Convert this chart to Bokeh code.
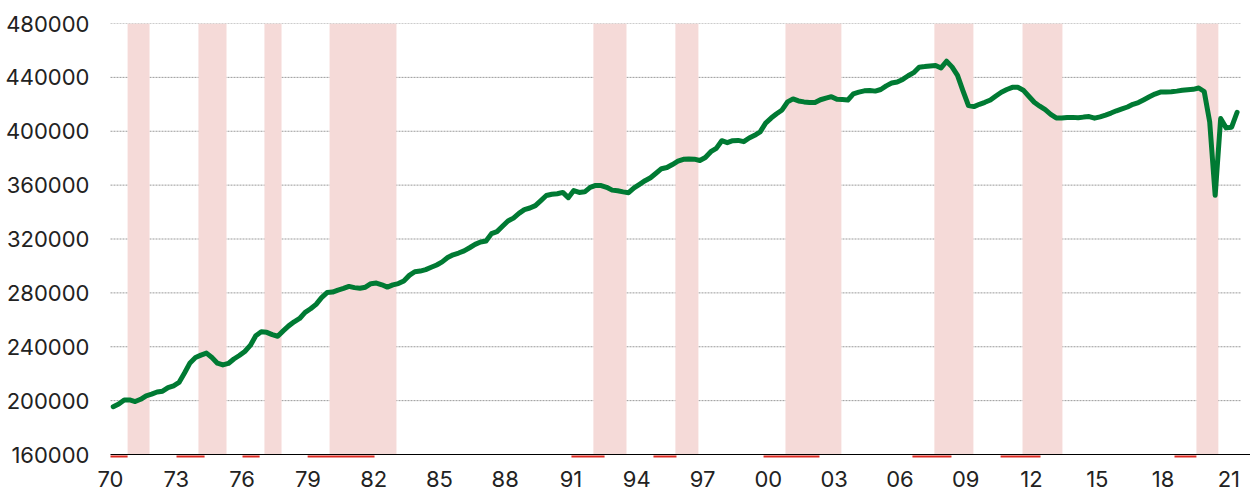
from bokeh.plotting import figure
from bokeh.models import (Range1d, FixedTicker, ColumnDataSource, NumeralTickFormatter,
                          LabelSet)
from bokeh.core.properties import value
from bokeh.embed import file_html
from bokeh.resources import INLINE

# ---------------- data ----------------
first_year = 1970
# quarterly values, 1970Q1 .. 2021Q2
values = [
    195500, 197500, 200500, 200500,   # 1970
    199300, 201000, 203600, 204800,   # 1971
    206400, 207000, 209600, 211000,   # 1972
    213500, 220500, 228000, 232000,   # 1973
    233800, 235300, 232000, 227800,   # 1974
    226500, 227600, 230900, 233500,   # 1975
    236500, 241000, 248200, 251100,   # 1976
    250700, 249000, 247800, 251800,   # 1977
    255500, 258500, 261000, 265500,   # 1978
    268200, 271500, 276500, 280200,   # 1979
    280600, 282100, 283300, 284800,   # 1980
    283900, 283400, 284200, 286800,   # 1981
    287300, 286000, 284300, 285900,   # 1982
    286900, 288900, 293000, 295700,   # 1983
    296200, 297300, 299000, 300700,   # 1984
    303000, 306200, 308300, 309600,   # 1985
    311200, 313500, 316000, 317800,   # 1986
    318500, 324000, 325500, 329500,   # 1987
    333400, 335500, 339000, 341800,   # 1988
    343000, 344800, 348500, 352300,   # 1989
    353200, 353600, 354600, 350700,   # 1990
    356000, 354600, 355000, 358300,   # 1991
    359800, 359700, 358400, 356300,   # 1992
    355800, 355000, 354400, 358000,   # 1993
    360600, 363300, 365500, 368800,   # 1994
    372200, 373100, 375300, 377800,   # 1995
    379200, 379400, 379300, 378300,   # 1996
    380500, 384800, 387300, 393000,   # 1997
    391500, 393000, 393200, 392300,   # 1998
    395000, 397000, 399500, 406000,   # 1999
    409800, 413000, 415800, 421800,   # 2000
    424000, 422500, 421800, 421400,   # 2001
    421300, 423400, 424600, 425700,   # 2002
    423700, 423500, 423200, 427800,   # 2003
    429000, 430000, 430200, 429800,   # 2004
    431000, 433700, 435800, 436600,   # 2005
    438500, 441200, 443500, 447600,   # 2006
    448000, 448500, 448800, 447000,   # 2007
    452000, 447800, 441500, 430000,   # 2008
    419000, 418300, 420000, 421500,   # 2009
    423200, 426200, 429000, 431000,   # 2010
    432600, 432600, 430500, 426000,   # 2011
    421500, 418600, 416000, 412500,   # 2012
    409900, 409900, 410200, 410300,   # 2013
    410000, 410500, 410900, 409700,   # 2014
    410700, 412000, 413500, 415200,   # 2015
    416600, 418000, 420000, 421300,   # 2016
    423400, 425600, 427600, 429100,   # 2017
    429100, 429300, 429800, 430400,   # 2018
    430800, 431100, 432100, 429500,   # 2019
    407000, 352400, 409400, 402500,   # 2020
    403000, 414100,                   # 2021
]

# shaded periods (fractional years)
band_start = [1970.78, 1974.01, 1977.02, 1979.99, 1992.02, 1995.76, 2000.78, 2007.57, 2011.59, 2019.52]
band_end   = [1971.78, 1975.29, 1977.80, 1983.04, 1993.53, 1996.81, 2003.33, 2009.35, 2013.41, 2020.52]
mark_lag = 1.0   # the red marks under the axis sit one year before each band

tick_years = list(range(1970, 2022, 3))
tick_labels = ["%02d" % (y % 100) for y in tick_years]
y_ticks = [160000, 200000, 240000, 280000, 320000, 360000, 400000, 440000, 480000]

Y_MIN, Y_MAX = 160000, 480000
X_MIN, X_MAX = 1970, 2021.53

# ---------------- geometry ----------------
W, H = 1250, 493
PLOT_LEFT, PLOT_RIGHT = 110, 1240   # where the plotted years start / end (pixels)
FRAME_LEFT, TOP = 92, 23            # frame reaches a bit further left so the "70" label shows
FRAME_H = 431                       # pixels from Y_MAX down to Y_MIN
px = (Y_MAX - Y_MIN) / FRAME_H
yr = (X_MAX - X_MIN) / (PLOT_RIGHT - PLOT_LEFT)
extra = H - TOP - FRAME_H           # frame runs to the bottom edge; x labels live there
LABEL_GAP = 16                      # pixels from baseline to top of x tick labels

x_lo = X_MIN - (PLOT_LEFT - FRAME_LEFT) * yr
x_hi = X_MAX + (W - PLOT_RIGHT) * yr

t = [first_year + i / 4 + 0.125 for i in range(len(values))]
src = ColumnDataSource(dict(t=t, v=values))

p = figure(width=W, height=H, output_backend="svg", toolbar_location=None,
           x_range=Range1d(x_lo, x_hi), y_range=Range1d(Y_MIN - extra * px, Y_MAX),
           min_border_left=FRAME_LEFT, min_border_right=0, min_border_top=TOP,
           min_border_bottom=0)
p.outline_line_color = None
p.background_fill_color = "white"
p.xgrid.grid_line_color = None
p.ygrid.grid_line_color = None

# horizontal gridlines (behind the bands)
grid_vals = y_ticks[1:]
p.segment(x0=X_MIN, x1=X_MAX, y0=grid_vals, y1=grid_vals,
          line_color="#9a9a9a", line_dash="2 1", line_width=1)

# bands
p.quad(left=band_start, right=band_end, bottom=Y_MIN, top=Y_MAX,
       fill_color="#F5DAD8", line_color=None)

# red marks just under the baseline
p.segment(x0=[max(s - mark_lag, X_MIN) for s in band_start], x1=[e - mark_lag for e in band_end],
          y0=Y_MIN - 2 * px, y1=Y_MIN - 2 * px, line_color="#DC2A22", line_width=2)

# axis baseline
p.segment(x0=[X_MIN], x1=[x_hi], y0=[Y_MIN], y1=[Y_MIN], line_color="black", line_width=1.2)

# line
p.line("t", "v", source=src, line_color="#007A33", line_width=5, line_join="round",
       line_cap="round")

font = "Inter"

# x axis: tick labels drawn just below the baseline
p.xaxis[0].visible = False
tick_src = ColumnDataSource(dict(x=tick_years, y=[Y_MIN - LABEL_GAP * px] * len(tick_years),
                                 text=tick_labels))
p.add_layout(LabelSet(x="x", y="y", text="text", source=tick_src,
                      text_align="center", text_baseline="top",
                      text_font=value(font), text_font_size="22px", text_color="#222222"))

ya = p.yaxis[0]
ya.ticker = FixedTicker(ticks=y_ticks)
ya.formatter = NumeralTickFormatter(format="0")
ya.axis_line_color = None
ya.major_tick_line_color = None
ya.minor_tick_line_color = None
ya.major_tick_out = 0
ya.major_tick_in = 0
ya.major_label_standoff = 3
ya.major_label_text_font = font
ya.major_label_text_font_size = "22px"
ya.major_label_text_color = "#222222"

open("out.html", "w").write(file_html(p, INLINE))
